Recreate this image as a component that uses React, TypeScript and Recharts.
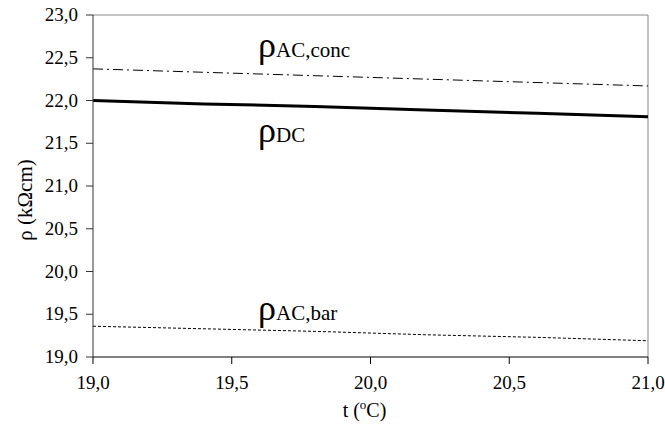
import React from "react";
import {
  LineChart,
  Line,
  XAxis,
  YAxis,
  ReferenceLine,
  ReferenceDot,
} from "recharts";

// temperatures (°C)
const temps = [19.0, 19.4, 19.8, 20.2, 20.6, 21.0];
// resistivities (kΩcm)
const rhoAcConc = [22.37, 22.33, 22.29, 22.25, 22.21, 22.17];
const rhoDc = [22.0, 21.96, 21.93, 21.89, 21.85, 21.81];
const rhoAcBar = [19.36, 19.33, 19.3, 19.26, 19.23, 19.19];

const xTicks = [19.0, 19.5, 20.0, 20.5, 21.0];
const yTicks = [19.0, 19.5, 20.0, 20.5, 21.0, 21.5, 22.0, 22.5, 23.0];

// label anchors (data coords) and texts
const labels = [
  { x: 19.595, y: 22.51, sub: "AC,conc" },
  { x: 19.595, y: 21.51, sub: "DC" },
  { x: 19.595, y: 19.43, sub: "AC,bar" },
];

const data = temps.map((t, i) => ({
  t,
  conc: rhoAcConc[i],
  dc: rhoDc[i],
  bar: rhoAcBar[i],
}));

const FONT = '"Times New Roman", "Liberation Serif", "DejaVu Serif", serif';
const fmt = (v: number) => v.toFixed(1).replace(".", ",");

const RhoLabel = (sub: string) => (props: any) => {
  const { viewBox } = props;
  const cx = viewBox.x + (viewBox.width || 0) / 2;
  const cy = viewBox.y + (viewBox.height || 0) / 2;
  return (
    <text x={cx} y={cy} style={{ fontFamily: FONT }} fill="#000">
      <tspan fontSize={36}>ρ</tspan>
      <tspan fontSize={21}>{sub}</tspan>
    </text>
  );
};

const XLabel = (props: any) => {
  const { viewBox } = props;
  const cx = viewBox.x + viewBox.width / 2;
  return (
    <text x={cx - 6} y={417} style={{ fontFamily: FONT }} fontSize={20} fill="#000" textAnchor="middle">
      t (<tspan fontSize={13} dy={-8}>o</tspan>
      <tspan dy={8}>C)</tspan>
    </text>
  );
};

const YLabel = (props: any) => {
  const { viewBox } = props;
  const cy = viewBox.y + viewBox.height / 2;
  return (
    <text
      x={25}
      y={cy + 14}
      transform={`rotate(-90 25 ${cy + 14})`}
      style={{ fontFamily: FONT }}
      fontSize={21}
      fill="#000"
      textAnchor="middle"
      dominantBaseline="central"
    >
      ρ (kΩcm)
    </text>
  );
};

const XTick = (props: any) => {
  const { x, y, payload } = props;
  return (
    <text x={x} y={y + 23} style={{ fontFamily: FONT }} fontSize={19} fill="#000" textAnchor="middle">
      {fmt(payload.value)}
    </text>
  );
};

const YTick = (props: any) => {
  const { x, y, payload } = props;
  return (
    <text x={x - 6} y={y + 6} style={{ fontFamily: FONT }} fontSize={19} fill="#000" textAnchor="end">
      {fmt(payload.value)}
    </text>
  );
};

export default function App() {
  return (
    <div style={{ position: "absolute", left: 0, top: 0, background: "#fff" }}>
      <LineChart
        width={665}
        height={446}
        data={data}
        margin={{ top: 15, right: 17, left: 0, bottom: 0 }}
      >
        <XAxis
          dataKey="t"
          type="number"
          domain={[19, 21]}
          ticks={xTicks}
          height={89}
          stroke="#000"
          tickSize={7}
          tick={<XTick />}
          label={<XLabel />}
        />
        <YAxis
          type="number"
          domain={[19, 23]}
          ticks={yTicks}
          width={93}
          stroke="#333"
          tickSize={7}
          tick={<YTick />}
          label={<YLabel />}
        />
        <ReferenceLine y={23} stroke="#888" />
        <ReferenceLine x={21} stroke="#888" />
        <Line
          dataKey="conc"
          stroke="#000"
          strokeWidth={1}
          strokeDasharray="10 4 2 4"
          dot={false}
          isAnimationActive={false}
        />
        <Line
          dataKey="dc"
          stroke="#000"
          strokeWidth={3}
          dot={false}
          isAnimationActive={false}
        />
        <Line
          dataKey="bar"
          stroke="#000"
          strokeWidth={1}
          strokeDasharray="3 2"
          dot={false}
          isAnimationActive={false}
        />
        {labels.map((l) => (
          <ReferenceDot
            key={l.sub}
            x={l.x}
            y={l.y}
            r={0}
            fill="none"
            stroke="none"
            label={RhoLabel(l.sub)}
          />
        ))}
      </LineChart>
    </div>
  );
}
